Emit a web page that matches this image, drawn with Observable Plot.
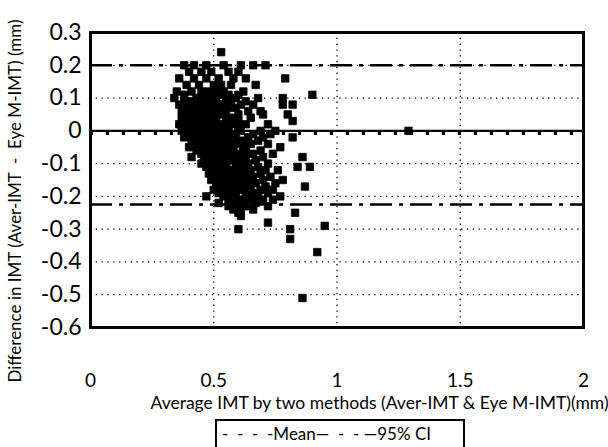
<!DOCTYPE html>
<html>
<head>
<meta charset="utf-8">
<script src="https://cdn.jsdelivr.net/npm/d3@7"></script>
<script src="https://cdn.jsdelivr.net/npm/@observablehq/plot@0.6"></script>
<style>
  body { margin: 0; background: #fff; font-family: Lato, "Open Sans", sans-serif; }
  #chart { width: 608px; height: 447px; position: relative; overflow: hidden; }
  #legend {
    position: absolute; left: 215px; top: 419px; width: 250px; height: 34px;
    border: 2px solid #000; box-sizing: border-box; font-size: 17px; color: #000;
    padding: 2px 0 0 5px; white-space: pre;
  }
  #ylabel {
    position: absolute; left: 14px; top: 201px; width: 420px; text-align: center;
    font-size: 17px; color: #000; white-space: pre; line-height: 1;
    transform: translate(-50%, -50%) rotate(-90deg);
  }
</style>
</head>
<body>
<div id="chart"></div>
<script>
// Difference (Aver-IMT − Eye M-IMT) levels, mm, with the averages (mm) of the points at each level
const diffLevels = [0.24, 0.20, 0.18, 0.16, 0.14, 0.12, 0.11, 0.10, 0.09, 0.08, 0.07, 0.06, 0.05, 0.04, 0.03, 0.02, 0.01, 0.00,
  -0.01, -0.02, -0.03, -0.04, -0.05, -0.06, -0.07, -0.08, -0.09, -0.10, -0.11, -0.12, -0.13, -0.14, -0.15, -0.16, -0.17,
  -0.18, -0.19, -0.20, -0.21, -0.22, -0.23, -0.24, -0.25, -0.26, -0.28, -0.29, -0.30, -0.33, -0.37, -0.51];
const avgAtLevel = [
  [0.53],
  [0.38, 0.42, 0.47, 0.54, 0.61, 0.66, 0.71],
  [0.40, 0.45, 0.49, 0.56, 0.60],
  [0.36, 0.42, 0.47, 0.52, 0.58, 0.63, 0.79],
  [0.39, 0.44, 0.50, 0.53, 0.57, 0.67],
  [0.35, 0.41, 0.45, 0.48, 0.51, 0.54, 0.62],
  [0.38, 0.47, 0.52, 0.56, 0.60, 0.90],
  [0.34, 0.43, 0.46, 0.50, 0.55, 0.59, 0.68, 0.78],
  [0.38, 0.41, 0.48, 0.51, 0.57, 0.63],
  [0.36, 0.40, 0.44, 0.47, 0.52, 0.54, 0.61, 0.66, 0.78, 0.82],
  [0.39, 0.43, 0.46, 0.50, 0.56, 0.59],
  [0.37, 0.42, 0.45, 0.49, 0.53, 0.64, 0.69],
  [0.40, 0.44, 0.48, 0.52, 0.55, 0.60, 0.70, 0.80],
  [0.37, 0.41, 0.46, 0.50, 0.57, 0.65],
  [0.39, 0.44, 0.47, 0.51, 0.55, 0.60, 0.82],
  [0.36, 0.42, 0.45, 0.49, 0.53, 0.58, 0.63, 0.72],
  [0.39, 0.43, 0.47, 0.51, 0.56, 0.60],
  [0.37, 0.41, 0.45, 0.49, 0.52, 0.55, 0.61, 0.69, 0.75, 1.29],
  [0.40, 0.44, 0.48, 0.51, 0.54, 0.58, 0.66, 0.73],
  [0.38, 0.43, 0.46, 0.50, 0.56, 0.59, 0.64, 0.70, 0.82],
  [0.41, 0.45, 0.48, 0.52, 0.55, 0.62, 0.68],
  [0.43, 0.47, 0.50, 0.53, 0.57, 0.60, 0.65, 0.72],
  [0.40, 0.45, 0.49, 0.52, 0.56, 0.62, 0.77],
  [0.43, 0.47, 0.50, 0.54, 0.58, 0.63, 0.69],
  [0.45, 0.48, 0.52, 0.56, 0.60, 0.66, 0.74],
  [0.41, 0.47, 0.50, 0.54, 0.58, 0.63, 0.70, 0.86],
  [0.46, 0.49, 0.53, 0.57, 0.61, 0.67],
  [0.45, 0.48, 0.52, 0.55, 0.59, 0.64, 0.72],
  [0.47, 0.51, 0.55, 0.59, 0.62, 0.68, 0.84, 0.89],
  [0.49, 0.53, 0.57, 0.61, 0.65, 0.71, 0.76],
  [0.48, 0.52, 0.55, 0.60, 0.63, 0.69],
  [0.50, 0.54, 0.58, 0.62, 0.66, 0.73],
  [0.49, 0.53, 0.57, 0.61, 0.64, 0.70, 0.78],
  [0.51, 0.55, 0.60, 0.63, 0.67, 0.75],
  [0.53, 0.57, 0.62, 0.65, 0.71, 0.87],
  [0.50, 0.55, 0.60, 0.64, 0.69, 0.74],
  [0.52, 0.57, 0.63, 0.66, 0.72],
  [0.47, 0.54, 0.59, 0.65, 0.68, 0.77],
  [0.56, 0.61, 0.64, 0.70, 0.74],
  [0.52, 0.58, 0.62, 0.67],
  [0.56, 0.60, 0.63, 0.72],
  [0.58, 0.61, 0.66],
  [0.60, 0.83],
  [0.61],
  [0.72],
  [0.95],
  [0.60, 0.81],
  [0.81],
  [0.92],
  [0.86]
];
const meanDiff = -0.008;
const ciLimits = [0.20, -0.225];
const xTicks = [0, 0.5, 1, 1.5, 2];
const yTicks = [0.3, 0.2, 0.1, 0, -0.1, -0.2, -0.3, -0.4, -0.5, -0.6];
const gridY = [0.2, 0.1, -0.1, -0.2, -0.3, -0.4, -0.5];
const gridX = [0.5, 1, 1.5];
const xLabel = "Average IMT by two methods (Aver-IMT & Eye M-IMT)(mm)";
const yLabel = "Difference in IMT (Aver-IMT  -  Eye M-IMT) (mm)";
const legendText = "-  -  -  -Mean\u2014  -  - \u201495% CI";

const points = diffLevels.flatMap((d, i) => avgAtLevel[i].map(a => ({avg: a, diff: d})));

const chart = Plot.plot({
  width: 608,
  height: 418,
  marginLeft: 90,
  marginRight: 25,
  marginTop: 32,
  marginBottom: 91,
  style: {fontFamily: "Lato, 'Open Sans', sans-serif", color: "#000", background: "#fff"},
  x: {domain: [0, 2]},
  y: {domain: [-0.6, 0.3]},
  marks: [
    Plot.ruleY(gridY, {stroke: "#000", strokeWidth: 1.3, strokeDasharray: "1.3,4.5"}),
    Plot.ruleX(gridX, {stroke: "#000", strokeWidth: 1.3, strokeDasharray: "1.3,4.5"}),
    Plot.ruleY([0], {stroke: "#000", strokeWidth: 2.2}),
    Plot.ruleY([meanDiff], {stroke: "#000", strokeWidth: 3, strokeDasharray: "3,13"}),
    Plot.ruleY(ciLimits, {stroke: "#000", strokeWidth: 2.5, strokeDasharray: "22,7,4,7"}),
    Plot.dot(points, {x: "avg", y: "diff", symbol: "square", r: 4.2, fill: "#000", stroke: "#000", strokeWidth: 0.8, strokeLinejoin: "round"}),
    Plot.frame({stroke: "#000", strokeWidth: 3}),
    Plot.axisY(yTicks, {tickSize: 0, tickPadding: 9, fontSize: 23, tickFormat: d => String(d), label: null}),
    Plot.axisX(xTicks, {tickSize: 0, tickPadding: 46, fontSize: 19, tickFormat: d => String(d), label: null}),
    Plot.text([xLabel], {frameAnchor: "bottom-left", textAnchor: "start", dx: 60, dy: 81, fontSize: 17.5, fill: "#000"})
  ]
});
const root = document.getElementById("chart");
root.appendChild(chart);
const yl = document.createElement("div");
yl.id = "ylabel";
yl.textContent = yLabel;
root.appendChild(yl);
const legend = document.createElement("div");
legend.id = "legend";
legend.textContent = legendText;
root.appendChild(legend);
</script>
</body>
</html>
